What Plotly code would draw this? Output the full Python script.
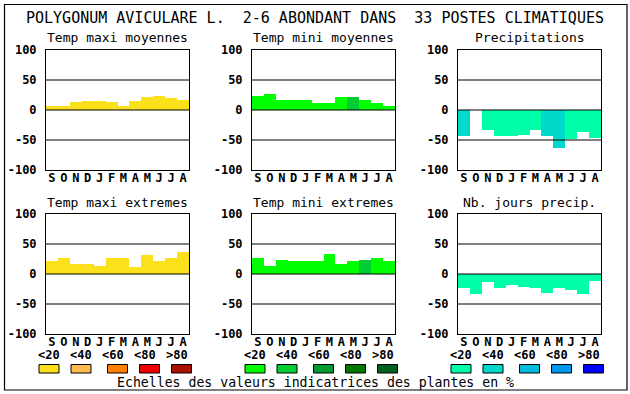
import plotly.graph_objects as go

W, H = 630, 394

months = ["S", "O", "N", "D", "J", "F", "M", "A", "M", "J", "J", "A"]
main_title = "POLYGONUM AVICULARE L.  2-6 ABONDANT DANS  33 POSTES CLIMATIQUES"
panel_titles = ["Temp maxi moyennes", "Temp mini moyennes", "Precipitations",
                "Temp maxi extremes", "Temp mini extremes", "Nb. jours precip."]
y_ticks = [-100, -50, 0, 50, 100]
class_labels = ["<20", "<40", "<60", "<80", ">80"]
footer = "Echelles des valeurs indicatrices des plantes en %"

# values (%) and abundance class index (0: <20, 1: <40, ...)
tmax_moy = [7, 7, 14, 15, 15, 14, 6, 15, 22, 24, 20, 17]
tmax_moy_cls = [0, 0, 0, 0, 0, 0, 0, 0, 0, 0, 0, 0]
tmin_moy = [24, 26, 17, 16, 17, 11, 11, 21, 21, 16, 12, 7]
tmin_moy_cls = [0, 0, 0, 0, 0, 0, 0, 0, 1, 0, 0, 0]
precip = [-43, 0, -33, -43, -43, -41, -33, -44, -63, -48, -36, -46]
precip_cls = [1, 0, 0, 0, 0, 0, 0, 1, 1, 0, 0, 0]
tmax_ext = [22, 26, 16, 17, 14, 27, 26, 12, 31, 22, 27, 36]
tmax_ext_cls = [0, 0, 0, 0, 0, 0, 0, 0, 0, 0, 0, 0]
tmin_ext = [26, 14, 24, 22, 22, 22, 34, 16, 22, 24, 26, 22]
tmin_ext_cls = [0, 0, 0, 0, 0, 0, 0, 0, 0, 1, 0, 0]
nb_jours = [-23, -33, -13, -23, -18, -21, -24, -31, -24, -26, -34, -11]
nb_jours_cls = [0, 0, 0, 0, 0, 0, 0, 0, 0, 0, 0, 0]

pal_yellow = ["#FAE11C", "#FFBB50", "#FF8000", "#EE0000", "#AA1000"]
pal_green = ["#00FF00", "#00CC33", "#009933", "#007800", "#006020"]
pal_blue = ["#00FFAA", "#00D8CC", "#00BBDD", "#0099EE", "#0000FF"]

series = [(tmax_moy, tmax_moy_cls, pal_yellow), (tmin_moy, tmin_moy_cls, pal_green),
          (precip, precip_cls, pal_blue), (tmax_ext, tmax_ext_cls, pal_yellow),
          (tmin_ext, tmin_ext_cls, pal_green), (nb_jours, nb_jours_cls, pal_blue)]
palettes = [pal_yellow, pal_green, pal_blue]

MONO = "DejaVu Sans Mono"
col_px = [(46, 189), (252, 395), (458, 601)]
row_px = [(50, 170), (214, 334)]

def px(x):
    return x / W

def py(y):
    return 1 - y / H

fig = go.Figure()
shapes = []
annotations = []
layout = {}

for i, (vals, cls, pal) in enumerate(series):
    n = i + 1
    r, c = divmod(i, 3)
    x0, x1 = col_px[c]
    y0, y1 = row_px[r]
    xa = "x" if n == 1 else f"x{n}"
    ya = "y" if n == 1 else f"y{n}"
    fig.add_trace(go.Bar(
        x=list(range(len(months))), y=vals, width=1,
        marker=dict(color=[pal[k] for k in cls], line=dict(width=0)),
        xaxis=xa, yaxis=ya, showlegend=False, hoverinfo="skip"))
    layout["xaxis" if n == 1 else f"xaxis{n}"] = dict(
        domain=[px(x0), px(x1)], anchor=ya, range=[-0.5, 11.5],
        tickmode="array", tickvals=list(range(len(months))), ticktext=months,
        showgrid=False, zeroline=False, showline=True, mirror=True,
        linecolor="black", linewidth=1, ticks="", layer="above traces",
        ticklabelstandoff=-3, automargin=False,
        tickfont=dict(family=MONO, size=12, color="black", weight="bold"),
        fixedrange=True)
    layout["yaxis" if n == 1 else f"yaxis{n}"] = dict(
        domain=[py(y1), py(y0)], anchor=xa, range=[-100, 100],
        tickmode="array", tickvals=y_ticks, ticktext=[str(t) for t in y_ticks],
        showgrid=False, zeroline=False, showline=True, mirror=True,
        linecolor="black", linewidth=1, ticks="", ticklabelstandoff=6,
        layer="above traces", automargin=False,
        tickfont=dict(family=MONO, size=12, color="black", weight="bold"),
        fixedrange=True)
    for gv in [-50, 0, 50]:
        shapes.append(dict(type="line", xref=f"{xa} domain", yref=ya,
                           x0=0, x1=1, y0=gv, y1=gv,
                           line=dict(color="black", width=1), layer="above"))
    annotations.append(dict(text=panel_titles[i], x=px((x0 + x1) / 2),
                            y=py(y0 - 12), xref="paper", yref="paper",
                            showarrow=False, xanchor="center", yanchor="middle",
                            font=dict(family=MONO, size=13, color="black")))

# legends
label_off = [3, 35, 67, 99, 131]
swatch_off = [3, 35, 71.5, 103.5, 135.5]
for c, pal in enumerate(palettes):
    base = col_px[c][0]
    for k in range(5):
        lx = base + label_off[k]
        annotations.append(dict(text=class_labels[k], x=px(lx), y=py(355),
                                xref="paper", yref="paper", showarrow=False,
                                xanchor="center", yanchor="middle",
                                font=dict(family=MONO, size=12, color="black",
                                          weight="bold")))
        sx = base + swatch_off[k]
        shapes.append(dict(type="rect", xref="paper", yref="paper",
                           x0=px(sx - 10), x1=px(sx + 10),
                           y0=py(373), y1=py(364.5),
                           fillcolor=pal[k], line=dict(color="black", width=1)))

annotations.append(dict(text=main_title, x=px(315), y=py(18), xref="paper",
                        yref="paper", showarrow=False, xanchor="center",
                        yanchor="middle",
                        font=dict(family=MONO, size=15, color="black")))
annotations.append(dict(text=footer, x=px(315), y=py(382), xref="paper",
                        yref="paper", showarrow=False, xanchor="center",
                        yanchor="middle",
                        font=dict(family=MONO, size=13.2, color="black")))

# outer frame
shapes.append(dict(type="rect", xref="paper", yref="paper",
                   x0=px(4.5), x1=px(627), y0=py(390), y1=py(4.5),
                   line=dict(color="black", width=1.2), fillcolor="rgba(0,0,0,0)"))

fig.update_layout(width=W, height=H, margin=dict(l=0, r=0, t=0, b=0),
                  paper_bgcolor="white", plot_bgcolor="white",
                  shapes=shapes, annotations=annotations, bargap=0,
                  **layout)

fig.write_html("out.html", config={"displayModeBar": False},
               post_script="document.body.style.margin='0';document.body.style.overflow='hidden';")
